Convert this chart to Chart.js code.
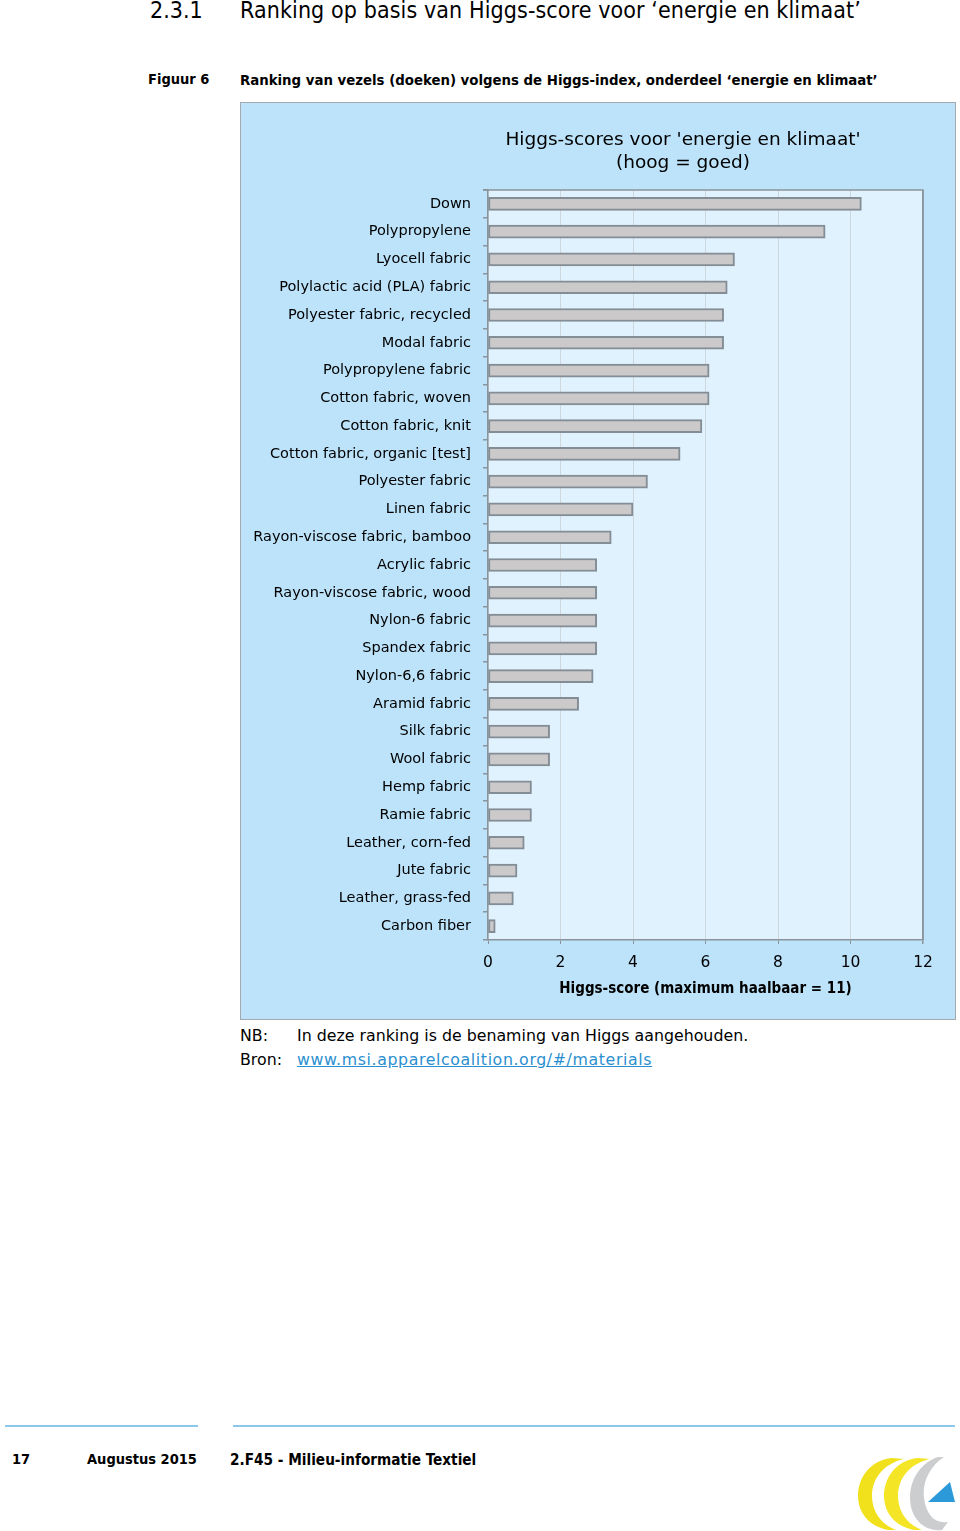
<!DOCTYPE html>
<html lang="nl">
<head>
<meta charset="utf-8">
<title>Ranking op basis van Higgs-score</title>
<script src="https://cdn.jsdelivr.net/npm/chart.js@4/dist/chart.umd.min.js"></script>
<style>
  body { margin: 0; width: 960px; height: 1531px; position: relative; background: #fff; color: #000;
         font-family: "DejaVu Sans", sans-serif; overflow: hidden; }
  .abs { position: absolute; white-space: nowrap; }
  .cond { font-family: "DejaVu Sans Condensed", "DejaVu Sans", sans-serif; }
  #h-num { left: 150px; top: -3px; font-size: 23px; }
  #h-txt { left: 240px; top: -3px; font-size: 23px; letter-spacing: 0.1px; }
  #fig-num { left: 148px; top: 71px; font-size: 14.5px; font-weight: bold; }
  #fig-txt { left: 240px; top: 71px; font-size: 14.8px; font-weight: bold; }
  #chart-box { left: 240px; top: 102px; width: 714px; height: 916px; border: 1px solid #a3a9ae; background: #bce3fa; }
  #chart-box canvas { display: block; }
  .note { font-size: 15.8px; }
  #nb-lbl { left: 240px; top: 1026px; }
  #nb-txt { left: 297px; top: 1026px; }
  #bron-lbl { left: 240px; top: 1050px; }
  #bron-txt { left: 297px; top: 1050px; color: #2b8fcf; text-decoration: underline; letter-spacing: 0.6px; }
  .rule { position: absolute; height: 2px; background: #8cc8ea; top: 1425px; }
  .foot { top: 1451px; font-size: 14.5px; font-weight: bold; }
</style>
</head>
<body>
<div id="h-num" class="abs cond">2.3.1</div>
<div id="h-txt" class="abs cond">Ranking op basis van Higgs-score voor ‘energie en klimaat’</div>
<div id="fig-num" class="abs cond">Figuur 6</div>
<div id="fig-txt" class="abs cond">Ranking van vezels (doeken) volgens de Higgs-index, onderdeel ‘energie en klimaat’</div>

<div id="chart-box" class="abs"><canvas id="chart-higgs" width="714" height="916"></canvas></div>

<div id="nb-lbl" class="abs note">NB:</div>
<div id="nb-txt" class="abs note">In deze ranking is de benaming van Higgs aangehouden.</div>
<div id="bron-lbl" class="abs note">Bron:</div>
<div id="bron-txt" class="abs note">www.msi.apparelcoalition.org/#/materials</div>

<div class="rule" style="left:5px;width:193px"></div>
<div class="rule" style="left:233px;width:722px"></div>
<div class="abs cond foot" style="left:12px">17</div>
<div class="abs cond foot" style="left:87px">Augustus 2015</div>
<div class="abs cond foot" style="left:230px;font-size:15.2px">2.F45 - Milieu-informatie Textiel</div>

<svg class="abs" style="left:852px;top:1452px" width="106" height="79" viewBox="0 0 106 79">
  <path d="M40 6 C18 8 6 26 6 44 C6 60 16 74 36 78 L44 78 C28 72 20 58 20 44 C20 28 30 12 52 7 Z" fill="#f1e11c"/>
  <path d="M66 6 C44 8 32 26 32 44 C32 60 42 74 62 78 L70 78 C54 72 46 58 46 44 C46 28 56 12 78 7 Z" fill="#f4e526"/>
  <path d="M86 5 L92 5 C78 14 70 30 72 46 C74 62 82 72 96 70 L90 78 C70 80 58 64 58 46 C58 26 70 10 86 5 Z" fill="#cbcdcf"/>
  <path d="M76 50 L98 30 L103 50 Z" fill="#2c9ad8"/>
</svg>

<script>
// Data
const categories = [
  "Down", "Polypropylene", "Lyocell fabric", "Polylactic acid (PLA) fabric",
  "Polyester fabric, recycled", "Modal fabric", "Polypropylene fabric",
  "Cotton fabric, woven", "Cotton fabric, knit", "Cotton fabric, organic [test]",
  "Polyester fabric", "Linen fabric", "Rayon-viscose fabric, bamboo", "Acrylic fabric",
  "Rayon-viscose fabric, wood", "Nylon-6 fabric", "Spandex fabric", "Nylon-6,6 fabric",
  "Aramid fabric", "Silk fabric", "Wool fabric", "Hemp fabric", "Ramie fabric",
  "Leather, corn-fed", "Jute fabric", "Leather, grass-fed", "Carbon fiber"
];
const scores = [
  10.3, 9.3, 6.8, 6.6, 6.5, 6.5, 6.1, 6.1, 5.9, 5.3,
  4.4, 4.0, 3.4, 3.0, 3.0, 3.0, 3.0, 2.9, 2.5, 1.7,
  1.7, 1.2, 1.2, 1.0, 0.8, 0.7, 0.2
];
const xMin = 0, xMax = 12, xStep = 2;
const chartTitle = ["Higgs-scores voor 'energie en klimaat'", "(hoog = goed)"];
const xAxisTitle = "Higgs-score (maximum haalbaar = 11)";

const FONT = '"DejaVu Sans", sans-serif';
const COND = '"DejaVu Sans Condensed", "DejaVu Sans", sans-serif';
const AXIS_GREY = "#8a949c";

// Plot background, frame and two-line title
const plotFrame = {
  id: "plotFrame",
  beforeDraw(chart) {
    const { ctx, chartArea: a } = chart;
    ctx.save();
    ctx.fillStyle = "#e0f2fd";
    ctx.fillRect(a.left, a.top, a.width, a.height);
    ctx.restore();
  },
  afterDraw(chart) {
    const { ctx, chartArea: a } = chart;
    ctx.save();
    ctx.strokeStyle = AXIS_GREY;
    ctx.lineWidth = 1.5;
    ctx.beginPath();
    ctx.moveTo(a.left - 5, a.top);
    ctx.lineTo(a.right, a.top);
    ctx.lineTo(a.right, a.bottom);
    ctx.stroke();
    ctx.fillStyle = "#000";
    ctx.font = "18.5px " + FONT;
    ctx.textAlign = "center";
    ctx.textBaseline = "middle";
    ctx.fillText(chartTitle[0], 442, 37);
    ctx.fillText(chartTitle[1], 442, 60);
    ctx.restore();
  }
};

new Chart(document.getElementById("chart-higgs").getContext("2d"), {
  type: "bar",
  data: {
    labels: categories,
    datasets: [{
      data: scores,
      backgroundColor: "#cbc9c9",
      borderColor: "#838d95",
      borderWidth: 2,
      borderSkipped: false,
      barThickness: 13
    }]
  },
  options: {
    indexAxis: "y",
    responsive: false,
    animation: false,
    layout: { padding: { top: 87, right: 32, bottom: 0, left: 0 } },
    plugins: { legend: { display: false }, tooltip: { enabled: false }, title: { display: false } },
    scales: {
      x: {
        min: xMin, max: xMax,
        afterFit: (s) => { s.height = 79; },
        ticks: { stepSize: xStep, color: "#000", padding: 10, font: { family: FONT, size: 15.5 } },
        grid: {
          color: (c) => (c.tick && c.tick.value === xMax) ? AXIS_GREY : "#cfd6dc",
          lineWidth: (c) => (c.tick && c.tick.value === xMax) ? 1.5 : 1,
          tickColor: AXIS_GREY, tickLength: 4
        },
        border: { color: AXIS_GREY, width: 1.5 },
        title: { display: true, text: xAxisTitle, color: "#000",
                 font: { family: COND, size: 15, weight: "bold" }, padding: { top: 0, bottom: 21 } }
      },
      y: {
        afterFit: (s) => { s.width = 247; },
        ticks: { color: "#000", padding: 12, autoSkip: false, font: { family: FONT, size: 14.5 } },
        grid: { drawOnChartArea: false, color: AXIS_GREY, tickLength: 5, lineWidth: 1.5 },
        border: { color: AXIS_GREY, width: 1.5 }
      }
    }
  },
  plugins: [plotFrame]
});
</script>
</body>
</html>
